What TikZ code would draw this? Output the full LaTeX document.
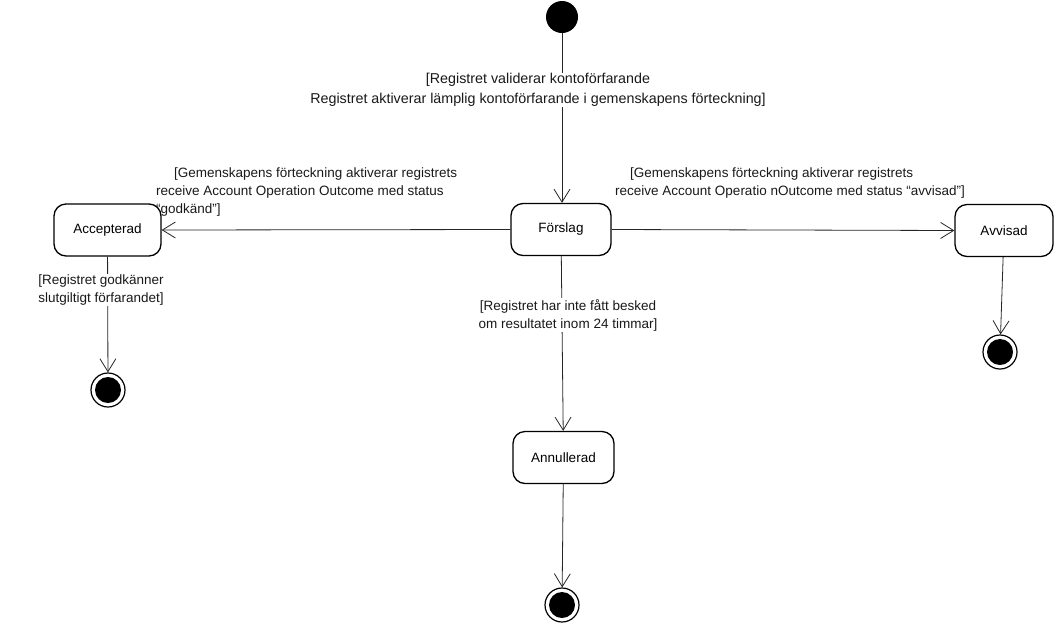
\documentclass[tikz,border=0pt]{standalone}
\usepackage{fontspec}
\setmainfont{Liberation Sans}
\usetikzlibrary{arrows.meta}
\begin{document}
\begin{tikzpicture}[x=1pt,y=-1pt,
  state/.style={draw, line width=1.3pt, rounded corners=12pt, minimum height=52pt, font=\fontsize{13.5}{18}\selectfont, inner sep=0pt},
  lbl/.style={font=\fontsize{13.5}{18}\selectfont, inner sep=1pt, text=black!90},
  tr/.style={draw=black!85, line width=0.8pt, -{Straight Barb[length=13pt,width=16pt,line width=0.8pt]}},
  initst/.style={circle, fill=black, minimum size=32pt, inner sep=0pt},
  finst/.style={circle, draw, line width=1.2pt, minimum size=34pt, inner sep=0pt,
    path picture={\fill (path picture bounding box.center) circle (13pt);}}
]
\useasboundingbox (0,0) rectangle (1055,622);
\node[initst] (start) at (562,17) {};
\node[state, minimum width=100pt] (forslag) at (561,229.5) {Förslag};
\node[state, minimum width=107pt] (acc) at (107.5,230) {Accepterad};
\node[state, minimum width=98pt] (avv) at (1004,230.5) {Avvisad};
\node[state, minimum width=101pt] (ann) at (563.5,457.5) {Annullerad};
\node[finst] (f1) at (108,390) {};
\node[finst] (f2) at (1000,352) {};
\node[finst] (f3) at (562,605) {};

\draw[tr] (start) -- (forslag.north -| start);
\node[lbl, fill=white, align=center, font=\fontsize{14.3}{19.5}\selectfont] (l0) at (538,90) {[Registret validerar kontoförfarande\\Registret aktiverar lämplig kontoförfarande i gemenskapens förteckning]};

\draw[tr] (forslag.west) -- (acc.east);
\node[lbl, align=left, anchor=north west] (l1) at (155,167) {\hspace{18pt}[Gemenskapens förteckning aktiverar registrets\\receive Account Operation Outcome med status\\“godkänd”]};

\draw[tr] (forslag.east) -- (avv.west);
\node[lbl, align=left, anchor=north west] (l2) at (614,167) {\hspace{15pt}[Gemenskapens förteckning aktiverar registrets\\receive Account Operatio nOutcome med status “avvisad”]};

\draw[tr] (acc) -- (f1);
\node[lbl, fill=white, align=center] (l3) at (101,290) {[Registret godkänner\\slutgiltigt förfarandet]};

\draw[tr] (forslag) -- (ann);
\node[lbl, fill=white, align=center] (l4) at (568,315) {[Registret har inte fått besked\\om resultatet inom 24 timmar]};

\draw[tr] (avv) -- (f2);
\draw[tr] (ann) -- (f3);
\end{tikzpicture}
\end{document}
